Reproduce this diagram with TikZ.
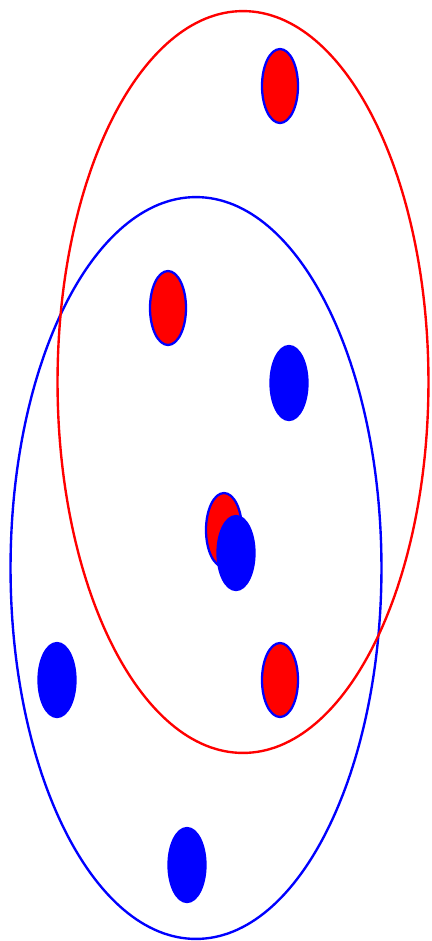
\documentclass[tikz,border=0pt]{standalone}
\usepackage{tikz}
\usetikzlibrary{shapes.geometric}

\begin{document}
\begin{tikzpicture}[
    x=0.02cm, y=-0.02cm,
    bigset/.style={
      ellipse, draw=#1, line width=1.35pt,
      minimum width=7.42cm, minimum height=14.84cm,
      inner sep=0pt
    },
    reddot/.style={
      ellipse, draw=blue, fill=red, line width=1.3pt,
      minimum width=0.72cm, minimum height=1.48cm, inner sep=0pt
    },
    bluedot/.style={
      ellipse, draw=blue, fill=blue, line width=1.3pt,
      minimum width=0.74cm, minimum height=1.48cm, inner sep=0pt
    }
  ]
  \useasboundingbox (0,0) rectangle (432,941);
  % the two sets
  \node[bigset=blue] (blueset) at (196,568) {};
  \node[bigset=red]  (redset)  at (243,382) {};
  % red points
  \node[reddot] (r1) at (280,86) {};
  \node[reddot] (r2) at (168,308) {};
  \node[reddot] (r3) at (224,530) {};
  \node[reddot] (r4) at (280,680) {};
  % blue points
  \node[bluedot] (b1) at (289,383) {};
  \node[bluedot] (b2) at (236,553) {};
  \node[bluedot] (b3) at (57,680) {};
  \node[bluedot] (b4) at (187,865) {};
\end{tikzpicture}
\end{document}
